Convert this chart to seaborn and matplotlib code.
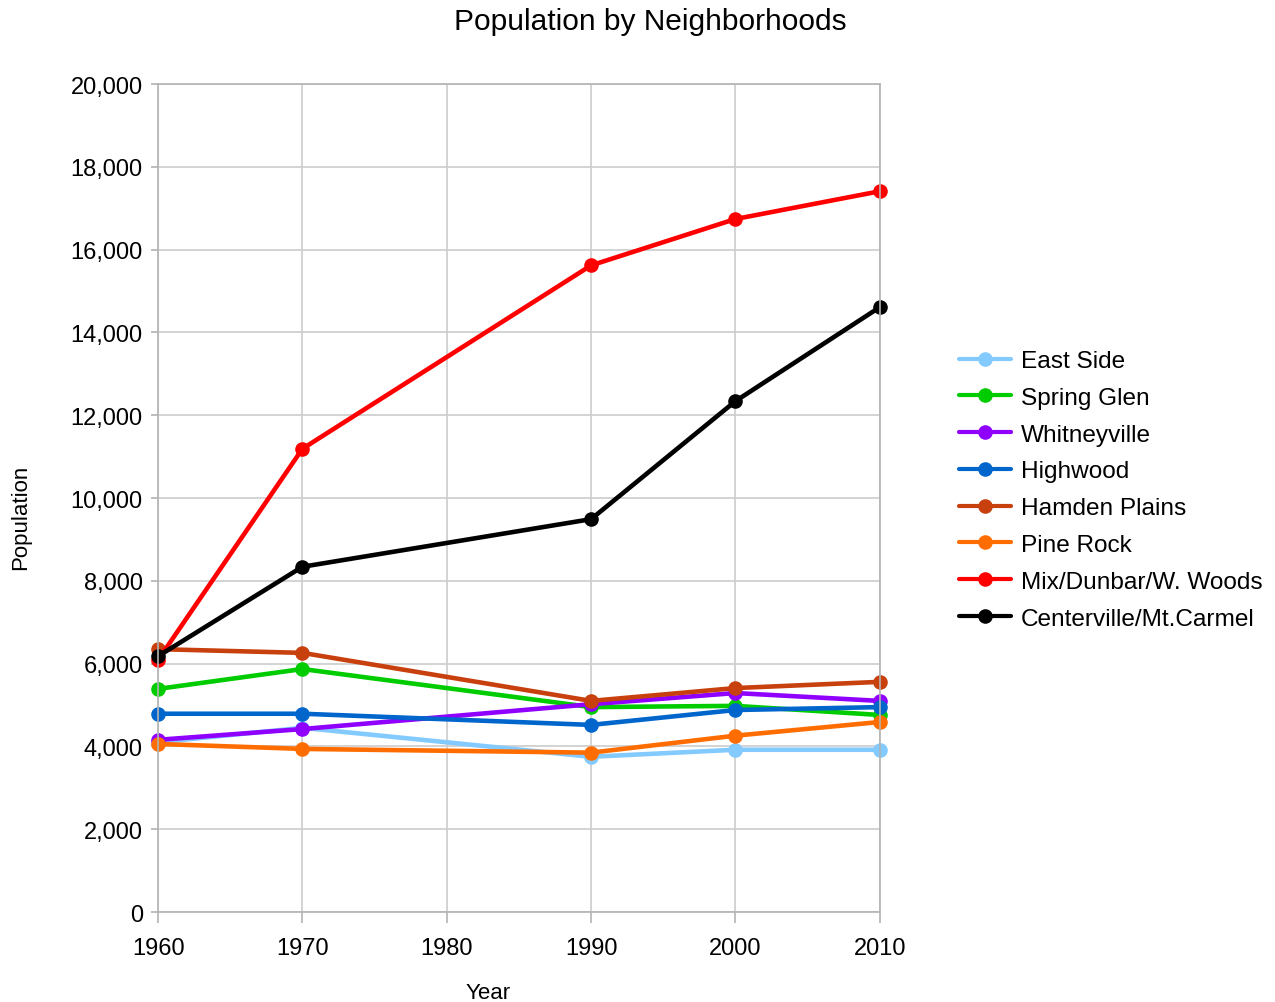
import matplotlib
matplotlib.use("Agg")
import matplotlib.pyplot as plt
import seaborn as sns
import pandas as pd
from matplotlib.ticker import FuncFormatter, MultipleLocator

years = [1960, 1970, 1990, 2000, 2010]
east_side = [4100, 4450, 3750, 3920, 3920]
spring_glen = [5390, 5870, 4950, 4980, 4760]
whitneyville = [4160, 4420, 5020, 5290, 5100]
highwood = [4790, 4790, 4520, 4880, 4950]
hamden_plains = [6350, 6260, 5100, 5410, 5560]
pine_rock = [4060, 3940, 3850, 4260, 4590]
mix_dunbar = [6090, 11190, 15620, 16740, 17410]
centerville = [6180, 8340, 9490, 12340, 14610]

names = ["East Side", "Spring Glen", "Whitneyville", "Highwood",
         "Hamden Plains", "Pine Rock", "Mix/Dunbar/W. Woods", "Centerville/Mt.Carmel"]
series = [east_side, spring_glen, whitneyville, highwood,
          hamden_plains, pine_rock, mix_dunbar, centerville]
colors = ["#83caff", "#00cc00", "#8f00ff", "#0066cc",
          "#c8400e", "#ff6d00", "#ff0000", "#000000"]

rows = []
for n, vals in zip(names, series):
    for y, v in zip(years, vals):
        rows.append({"Year": y, "Population": v, "Neighborhood": n})
df = pd.DataFrame(rows)

sns.set_theme(style="whitegrid")
plt.rcParams["font.family"] = ["Liberation Sans", "DejaVu Sans"]
plt.rcParams["text.color"] = "black"

fig = plt.figure(figsize=(12.75, 10.03), dpi=100)
ax = fig.add_axes([0.124, 0.0897, 0.566, 0.8255])

sns.lineplot(data=df, x="Year", y="Population", hue="Neighborhood",
             hue_order=names, palette=dict(zip(names, colors)),
             marker="o", markersize=10.5, markeredgewidth=0, linewidth=3.3,
             ax=ax)
for ln in ax.get_lines():
    ln.set_clip_on(False)

ax.set_xlim(1960, 2010)
ax.set_ylim(0, 20000)
ax.xaxis.set_major_locator(MultipleLocator(10))
ax.yaxis.set_major_locator(MultipleLocator(2000))
ax.yaxis.set_major_formatter(FuncFormatter(lambda v, p: f"{int(v):,}"))
ax.grid(True, color="#cccccc", linewidth=1.2)
for s in ax.spines.values():
    s.set_color("#b3b3b3")
    s.set_linewidth(1.2)
ax.tick_params(axis="both", labelsize=17, labelcolor="black", color="#b3b3b3",
               length=5, width=1.2, direction="out")
ax.tick_params(axis="y", pad=6, left=True)
ax.tick_params(axis="x", pad=10, bottom=True, length=8)
ax.set_xlabel("Year", fontsize=16, color="black")
ax.set_ylabel("Population", fontsize=16, color="black")
ax.xaxis.set_label_coords(0.457, -0.0845)
ax.yaxis.set_label_coords(-0.176, 0.478)
fig.text(0.51, 0.978, "Population by Neighborhoods", fontsize=21.5,
         ha="center", va="center", color="black")

leg = ax.legend(loc="center left", bbox_to_anchor=(1.079, 0.51), frameon=False,
                fontsize=17.6, handlelength=2.15, handletextpad=0.4,
                labelspacing=0.6)
for h in leg.get_lines():
    h.set_linewidth(3)
    h.set_markersize(10.5)

fig.savefig("out.png", dpi=100, facecolor="white")
